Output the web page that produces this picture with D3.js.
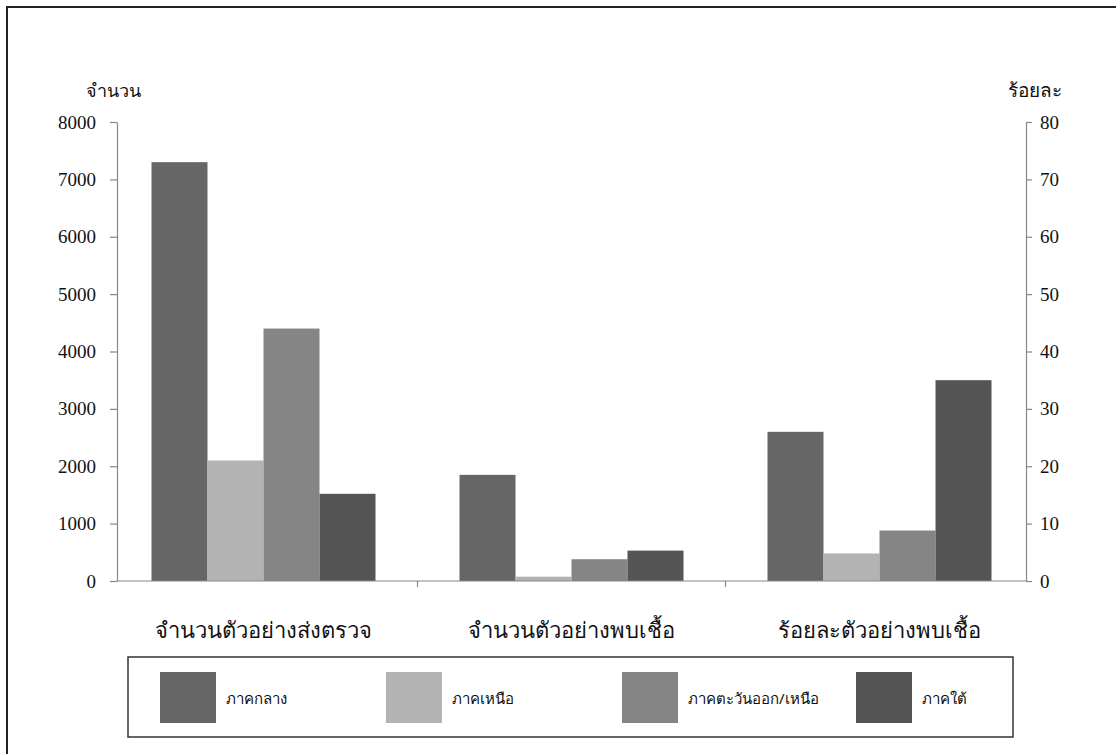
<!DOCTYPE html>
<html>
<head>
<meta charset="utf-8">
<script src="https://cdn.jsdelivr.net/npm/d3@7"></script>
<style>
  html, body { margin: 0; padding: 0; background: #fff; }
  svg { display: block; }
  text { font-family: "Liberation Serif", "DejaVu Serif", serif; fill: #111; }
  .thai { font-family: "Noto Sans", "DejaVu Sans", sans-serif; }
</style>
</head>
<body>
<svg id="chart" width="1116" height="754"></svg>
<script>
// Groups along the x axis
const categories = ["จำนวนตัวอย่างส่งตรวจ", "จำนวนตัวอย่างพบเชื้อ", "ร้อยละตัวอย่างพบเชื้อ"];
// Regions (series)
const regions = ["ภาคกลาง", "ภาคเหนือ", "ภาคตะวันออก/เหนือ", "ภาคใต้"];
// Values per region for each group; the third group is a percentage (right axis)
const samplesSent   = [7300, 2100, 4400, 1520];
const samplesFound  = [1850, 75, 380, 530];
const percentFound  = [26, 4.8, 8.8, 35];
const regionColors  = ["#666666", "#b3b3b3", "#858585", "#555555"];
const leftTicks  = [0, 1000, 2000, 3000, 4000, 5000, 6000, 7000, 8000];
const rightTicks = [0, 10, 20, 30, 40, 50, 60, 70, 80];

const svg = d3.select("#chart");

// Outer frame
svg.append("rect")
  .attr("x", 7).attr("y", 7).attr("width", 1130).attr("height", 770)
  .attr("fill", "none").attr("stroke", "#222").attr("stroke-width", 2);

const plot = { left: 117, right: 1026, top: 122, bottom: 581 };

// Group bands are slightly wider than the axis span (Excel-style layout)
const x0 = d3.scaleBand().domain(categories)
  .range([109.5, 1033.5]).paddingInner(0).paddingOuter(0);
const x1 = d3.scaleBand().domain(regions)
  .range([0, x0.bandwidth()]).paddingOuter(0.75).paddingInner(0);
const yLeft = d3.scaleLinear().domain([0, 8000]).range([plot.bottom, plot.top]);
const yRight = d3.scaleLinear().domain([0, 80]).range([plot.bottom, plot.top]);

const groups = [
  { cat: categories[0], values: samplesSent, scale: yLeft },
  { cat: categories[1], values: samplesFound, scale: yLeft },
  { cat: categories[2], values: percentFound, scale: yRight }
];

// Bars
groups.forEach(g => {
  svg.append("g")
    .attr("transform", `translate(${x0(g.cat)},0)`)
    .selectAll("rect")
    .data(g.values.map((v, i) => ({ v, r: regions[i], c: regionColors[i] })))
    .join("rect")
    .attr("x", d => x1(d.r))
    .attr("y", d => g.scale(d.v))
    .attr("width", x1.bandwidth())
    .attr("height", d => plot.bottom - g.scale(d.v))
    .attr("fill", d => d.c);
});

// Left axis
const axL = svg.append("g")
  .attr("transform", `translate(${plot.left},0)`)
  .call(d3.axisLeft(yLeft).tickValues(leftTicks).tickSize(7).tickSizeOuter(0).tickPadding(14)
    .tickFormat(d3.format("d")));
// Right axis
const axR = svg.append("g")
  .attr("transform", `translate(${plot.right},0)`)
  .call(d3.axisRight(yRight).tickValues(rightTicks).tickSize(6).tickSizeOuter(0).tickPadding(8)
    .tickFormat(d3.format("d")));
[axL, axR].forEach(a => {
  a.select(".domain").attr("stroke", "#888").attr("stroke-width", 1.2);
  a.selectAll(".tick line").attr("stroke", "#888").attr("stroke-width", 1.2);
  a.selectAll(".tick text").attr("font-size", 19).attr("fill", "#111")
    .attr("font-family", "Liberation Serif, serif");
});

// X axis baseline with group separators
svg.append("line")
  .attr("x1", plot.left).attr("x2", plot.right)
  .attr("y1", plot.bottom).attr("y2", plot.bottom)
  .attr("stroke", "#888").attr("stroke-width", 1.2);
svg.append("g").selectAll("line")
  .data(categories.slice(1))
  .join("line")
  .attr("x1", d => x0(d)).attr("x2", d => x0(d))
  .attr("y1", plot.bottom).attr("y2", plot.bottom + 6)
  .attr("stroke", "#888").attr("stroke-width", 1.2);

// Category labels
svg.append("g").selectAll("text")
  .data(categories)
  .join("text")
  .attr("class", "thai")
  .attr("x", d => x0(d) + x0.bandwidth() / 2)
  .attr("y", 638)
  .attr("text-anchor", "middle")
  .attr("font-size", 22)
  .text(d => d);

// Axis titles
svg.append("text").attr("class", "thai")
  .attr("x", 86).attr("y", 97).attr("font-size", 18).text("จำนวน");
svg.append("text").attr("class", "thai")
  .attr("x", 1062).attr("y", 97).attr("font-size", 19).attr("text-anchor", "end").text("ร้อยละ");

// Legend
svg.append("rect")
  .attr("x", 128).attr("y", 657).attr("width", 885).attr("height", 80)
  .attr("fill", "none").attr("stroke", "#333").attr("stroke-width", 1.5);

const legendX = d3.scaleOrdinal().domain(regions).range([160, 386, 622, 856]);
const leg = svg.append("g").selectAll("g")
  .data(regions.map((r, i) => ({ r, c: regionColors[i] })))
  .join("g")
  .attr("transform", d => `translate(${legendX(d.r)},672)`);
leg.append("rect").attr("width", 56).attr("height", 51).attr("fill", d => d.c);
leg.append("text").attr("class", "thai")
  .attr("x", 66).attr("y", 32).attr("font-size", 15).text(d => d.r);
</script>
</body>
</html>
